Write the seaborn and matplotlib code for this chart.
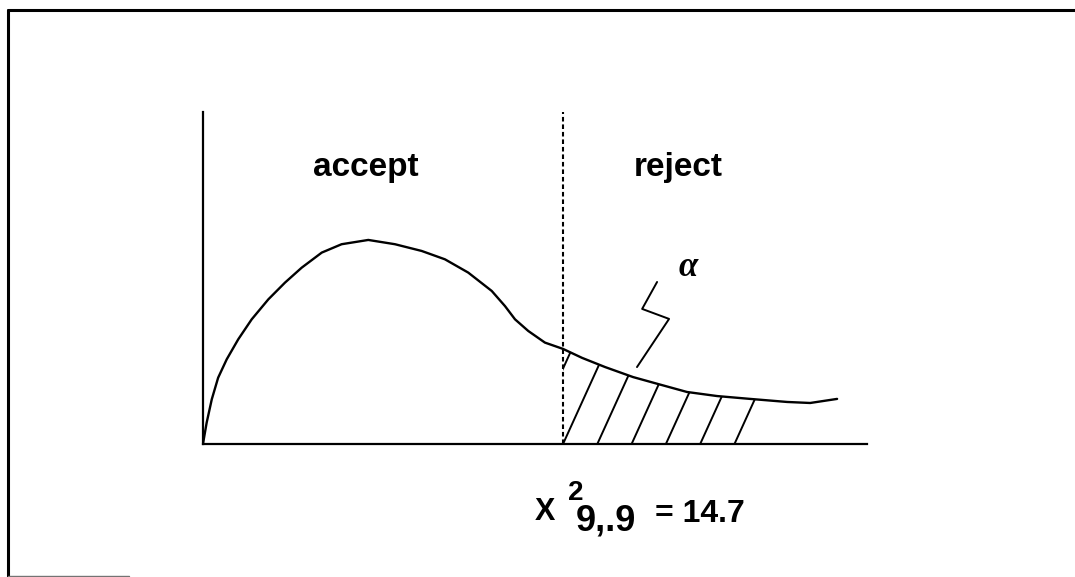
import numpy as np
import matplotlib
matplotlib.use("Agg")
import matplotlib.pyplot as plt
import seaborn as sns
from matplotlib.lines import Line2D

# Curva de densidad (x en unidades chi-cuadrado)
curve_x = [0, 0.15, 0.36, 0.62, 0.97, 1.44, 1.99, 2.67, 3.35, 4.03, 4.85, 5.66,
           6.75, 7.84, 8.93, 9.88, 10.83, 11.79, 12.33, 12.74, 13.28, 13.96,
           14.7, 15.48, 16.42, 17.56, 18.58, 19.76, 20.99, 22.34, 23.85, 24.79,
           25.89]
curve_y = [0, 0.0104, 0.0219, 0.0325, 0.0415, 0.0513, 0.0611, 0.0709, 0.0791,
           0.0864, 0.0938, 0.0979, 0.1, 0.0979, 0.0946, 0.0905, 0.084, 0.075,
           0.0676, 0.0611, 0.0554, 0.0497, 0.0466, 0.0422, 0.0377, 0.0328,
           0.0294, 0.0255, 0.0235, 0.0221, 0.0206, 0.0201, 0.0221]

critical = 14.7
region_labels = ["accept", "reject"]
region_label_x = [6.65, 19.4]
alpha_leader_x = [18.54, 17.93, 19.03, 17.72]
alpha_leader_y = [0.0794, 0.0662, 0.0613, 0.0377]

sns.set_theme(style="white")
plt.rcParams["font.family"] = ["Liberation Sans", "DejaVu Sans"]
plt.rcParams["text.color"] = "black"

fig = plt.figure(figsize=(10.75, 5.77), dpi=100)
ax = fig.add_axes([0.1888, 0.2305, 0.6177, 0.5754])

cx = np.array(curve_x)
cy = np.array(curve_y)

sns.lineplot(x=cx, y=cy, ax=ax, color="black", linewidth=1.7, sort=True)

# linea critica
ax.axvline(critical, color="black", linestyle=(0, (2.2, 1.4)), linewidth=1.5)

# zona de rechazo rayada
poly = ax.fill_between(cx, 0, cy, where=cx >= critical, facecolor="none",
                       edgecolor="none", interpolate=True)
slope = 0.0264
for x0 in np.arange(13.3, 22.0, 1.4):
    h = 0.12
    ln, = ax.plot([x0, x0 + h / slope], [0, h], color="black", linewidth=1.4)
    ln.set_clip_path(poly.get_paths()[0], poly.get_transform())

# alpha y su linea
ax.plot(alpha_leader_x, alpha_leader_y, color="black", linewidth=1.4)
ax.text(19.8, 0.0825, "α", fontsize=25, color="black",
        family=["Liberation Serif", "DejaVu Serif"], fontweight="bold",
        style="italic", ha="center", va="baseline")

for lab, xl in zip(region_labels, region_label_x):
    ax.text(xl, 0.1315, lab, fontsize=24, fontweight="bold", color="black",
            ha="center", va="baseline")

# etiqueta del valor critico
ax.text(13.96, -0.0373, "X", fontsize=22, fontweight="bold", color="black",
        ha="center", va="baseline", clip_on=False)
ax.text(14.9, -0.0275, "2", fontsize=20, fontweight="bold", color="black",
        ha="left", va="baseline", clip_on=False)
ax.text(15.2, -0.0422, "9,.9", fontsize=26, fontweight="bold", color="black",
        ha="left", va="baseline", clip_on=False)
ax.text(18.46, -0.0382, "= 14.7", fontsize=23, fontweight="bold", color="black",
        ha="left", va="baseline", clip_on=False)

ax.set_xlim(0, 27.11)
ax.set_ylim(0, 0.1627)
ax.set_xticks([])
ax.set_yticks([])
ax.set_xlabel("")
ax.set_ylabel("")
for s in ["top", "right"]:
    ax.spines[s].set_visible(False)
for s in ["left", "bottom"]:
    ax.spines[s].set_color("black")
    ax.spines[s].set_linewidth(1.6)

# marco exterior (izquierda y arriba; abajo apenas visible)
fl, ft, fb = 8 / 1075, 1 - 10 / 577, 1 / 577
fig.add_artist(Line2D([fl, fl], [fb, ft], transform=fig.transFigure,
                      color="black", linewidth=2.2))
fig.add_artist(Line2D([fl, 1.0], [ft, ft], transform=fig.transFigure,
                      color="black", linewidth=2.2))
fig.add_artist(Line2D([fl, 0.12], [fb, fb], transform=fig.transFigure,
                      color="0.45", linewidth=1.0))

fig.savefig("out.png", dpi=100, facecolor="white")
